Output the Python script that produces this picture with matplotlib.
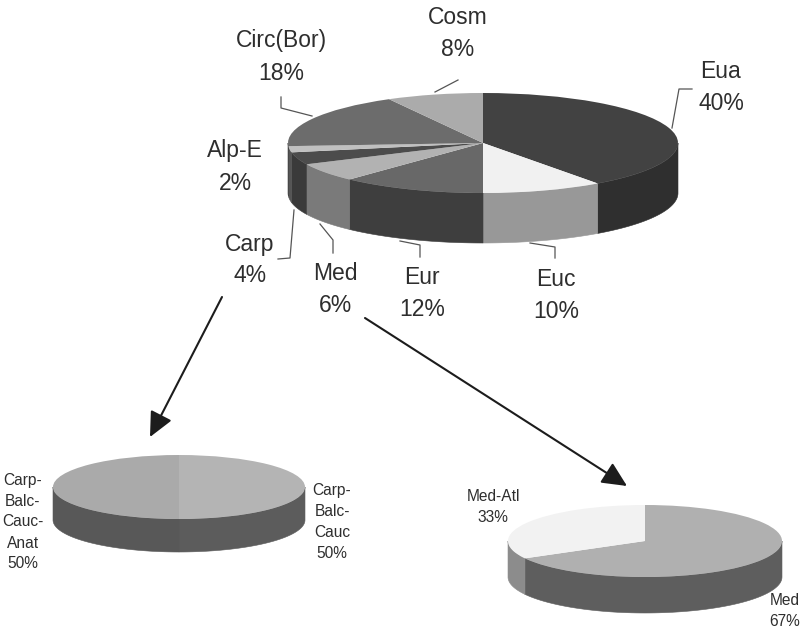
import numpy as np
import matplotlib
matplotlib.use("Agg")
import matplotlib.pyplot as plt
from matplotlib.transforms import Affine2D

plt.rcParams['font.family'] = ['Liberation Sans', 'DejaVu Sans']

# Chorotype spectrum (percent), clockwise from twelve o'clock
main_names = ['Eua', 'Euc', 'Eur', 'Med', 'Carp', 'Alp-E', 'Circ(Bor)', 'Cosm']
main_values = [40, 10, 12, 6, 4, 2, 18, 8]
main_top = ['#424242', '#f1f1f1', '#686868', '#b2b2b2', '#4c4c4c', '#c0c0c0', '#6c6c6c', '#ababab']
main_side = ['#2f2f2f', '#989898', '#3e3e3e', '#7a7a7a', '#3a3a3a', '#555555', '#444444', '#666666']

carp_names = ['Carp-\nBalc-\nCauc', 'Carp-\nBalc-\nCauc-\nAnat']
carp_values = [50, 50]
carp_top = ['#b4b4b4', '#aaaaaa']
carp_side = ['#5c5c5c', '#585858']

med_names = ['Med', 'Med-Atl']
med_values = [67, 33]
med_top = ['#b0b0b0', '#f2f2f2']
med_side = ['#5e5e5e', '#8c8c8c']

INK = '#2e2e2e'

fig = plt.figure(figsize=(8.02, 6.30), dpi=100, facecolor='white')
ax = fig.add_axes([0, 0, 1, 1])


def pie3d(values, tops, sides, cx, cy, rx, ry, depth):
    """Draw a tilted pie: side wall first, then the flattened top wedges."""
    edges = np.concatenate([[0], np.cumsum(values)]) / np.sum(values) * 360.0
    for start, stop, colour in zip(edges[:-1], edges[1:], sides):
        lo, hi = max(start, 90.0), min(stop, 270.0)
        if hi <= lo:
            continue
        t = np.radians(np.linspace(lo, hi, 80))
        x = cx + rx * np.sin(t)
        y = cy - ry * np.cos(t)
        ax.fill(np.r_[x, x[::-1]], np.r_[y, y[::-1] + depth],
                facecolor=colour, edgecolor=colour, linewidth=0.4, zorder=2)
    wedges, _ = ax.pie(values, colors=tops, startangle=90, counterclock=False,
                       radius=1.0, frame=False)
    squash = Affine2D().scale(rx, -ry).translate(cx, cy) + ax.transData
    for w in wedges:
        w.set_transform(squash)
        w.set_zorder(3)


pie3d(main_values, main_top, main_side, 483, 143, 195, 50, 50)
pie3d(carp_values, carp_top, carp_side, 179, 487, 126, 32, 33)
pie3d(med_values, med_top, med_side, 645, 541, 137, 36, 36)

ax.set_aspect('auto')
ax.set_xlim(0, 802)
ax.set_ylim(630, 0)
ax.axis('off')


def label(text, x, y, size):
    ax.text(x, y, text, ha='center', va='center', fontsize=size, color=INK,
            linespacing=1.5, zorder=5)


# Main pie labels
big = 16.5
main_label_xy = [(721, 87), (556, 295), (422, 293), (335, 289),
                 (250, 260), (235, 167), (281, 57), (458, 33)]
for name, value, (x, y) in zip(main_names, main_values, main_label_xy):
    label(f'{name}\n{value}%', x, y, big)

# Detail pie labels
small = 11.2
label(f'{carp_names[0]}\n{carp_values[0]}%', 332, 522, small)
label(f'{carp_names[1]}\n{carp_values[1]}%', 23, 522, small)
label(f'{med_names[0]}\n{med_values[0]}%', 785, 611, small)
label(f'{med_names[1]}\n{med_values[1]}%', 493, 507, small)

# Leader lines from slices to their labels
leaders = [
    ([435, 458], [92, 80]),
    ([312, 281, 281], [116, 108, 97]),
    ([672, 679, 692], [128, 89, 89]),
    ([294, 290, 278], [210, 258, 259]),
    ([320, 333, 333], [224, 240, 253]),
    ([400, 420, 420], [241, 245, 257]),
    ([530, 555, 555], [243, 247, 258]),
]
for xs, ys in leaders:
    ax.plot(xs, ys, color='#555555', linewidth=0.9, zorder=4)

# Arrows pointing to the detail pies
for tail, head in [((222, 297), (150, 437)), ((365, 318), (627, 486))]:
    ax.annotate('', xy=head, xytext=tail, zorder=4,
                arrowprops=dict(arrowstyle='-|>,head_length=0.95,head_width=0.45',
                                color='#1c1c1c', linewidth=1.5,
                                shrinkA=0, shrinkB=0, mutation_scale=16))

fig.savefig('out.png', dpi=100, facecolor='white')
